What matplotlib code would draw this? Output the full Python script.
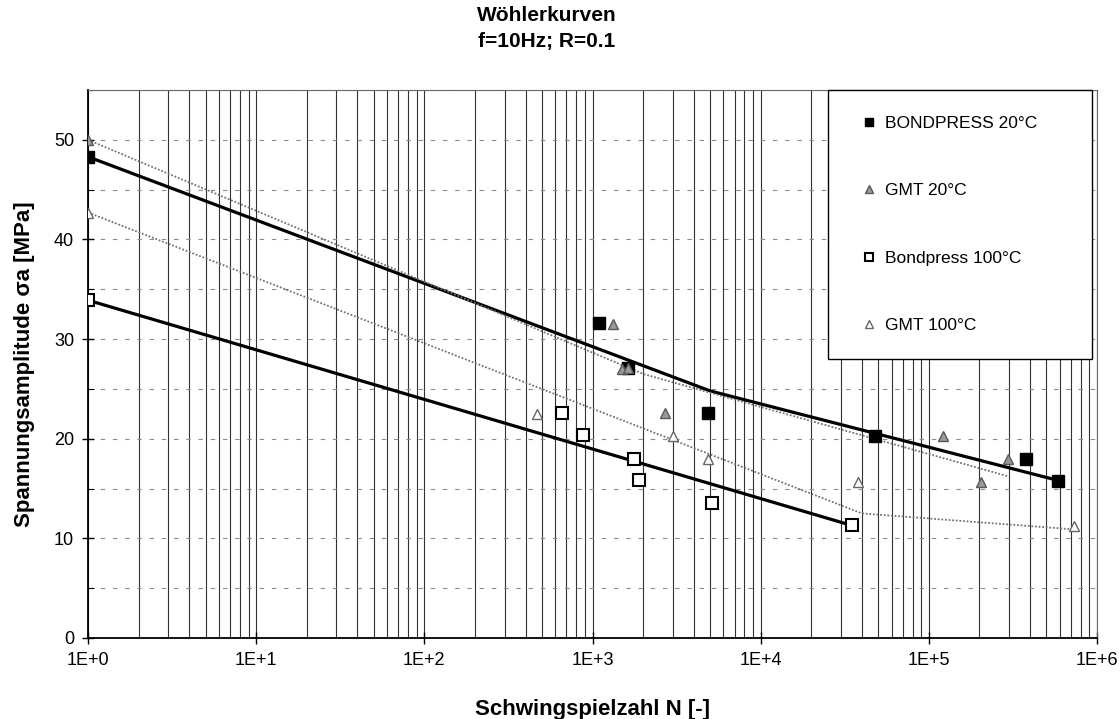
import numpy as np
import matplotlib
matplotlib.use('Agg')
import matplotlib.pyplot as plt
from matplotlib.ticker import FixedLocator, FuncFormatter, LogLocator, MultipleLocator

plt.rcParams['font.family'] = ['Liberation Sans', 'DejaVu Sans']

# measured points (cycles N, stress amplitude in MPa)
bp20_n = [1, 1090, 1630, 4860, 47800, 377000, 585000]
bp20_s = [48.3, 31.6, 27.1, 22.6, 20.3, 18.0, 15.8]

gmt20_n = [1, 1320, 1500, 1620, 2700, 121000, 204000, 297000]
gmt20_s = [50.0, 31.5, 27.0, 27.1, 22.6, 20.3, 15.7, 18.0]

bp100_n = [1, 660, 880, 1760, 1890, 5130, 34700]
bp100_s = [33.9, 22.6, 20.4, 18.0, 15.9, 13.5, 11.3]

gmt100_n = [1, 470, 3000, 4860, 38000, 728000]
gmt100_s = [42.7, 22.5, 20.3, 18.0, 15.7, 11.2]

# trend lines
bp20_fit_n = [1, 5000, 590000]
bp20_fit_s = [48.3, 24.8, 15.8]
gmt20_fit_n = [1, 2000, 300000]
gmt20_fit_s = [50.0, 26.5, 16.2]
bp100_fit_n = [1, 34700]
bp100_fit_s = [33.9, 11.3]
gmt100_fit_n = [1, 40000, 725000]
gmt100_fit_s = [42.7, 12.5, 10.9]

x_ticks = [1, 10, 100, 1000, 10000, 100000, 1000000]
y_ticks = [0, 10, 20, 30, 40, 50]

fig = plt.figure(figsize=(11.2, 7.19), dpi=100)
ax = fig.add_axes([0.0786, 0.1127, 0.9009, 0.7621])

ax.set_xscale('log')
ax.set_xlim(1, 1e6)
ax.set_ylim(0, 55)

# vertical grid at every 1..9 x 10^k, horizontal dashed every 5
ax.xaxis.set_major_locator(FixedLocator(x_ticks))
ax.xaxis.set_minor_locator(LogLocator(base=10, subs=np.arange(2, 10), numticks=20))
ax.xaxis.set_major_formatter(FuncFormatter(lambda v, p: '1E+%d' % int(round(np.log10(v)))))
ax.xaxis.set_minor_formatter(FuncFormatter(lambda v, p: ''))
ax.yaxis.set_major_locator(FixedLocator(y_ticks))
ax.yaxis.set_minor_locator(MultipleLocator(5))

ax.grid(True, which='both', axis='x', color='0.2', lw=0.8, ls='-')
ax.grid(True, which='both', axis='y', color='0.55', lw=0.8, ls=(0, (4, 7)))
ax.set_axisbelow(True)

ax.tick_params(axis='both', which='major', direction='inout', length=8, width=1,
               labelsize=13, pad=6)
ax.tick_params(axis='x', which='minor', length=0)
ax.tick_params(axis='y', which='minor', direction='in', length=4, width=0.8)

for side in ['left', 'bottom']:
	ax.spines[side].set_color('black')
	ax.spines[side].set_linewidth(1.3)
for side in ['top', 'right']:
	ax.spines[side].set_color('0.4')
	ax.spines[side].set_linewidth(0.8)

# trend lines
ax.plot(bp20_fit_n, bp20_fit_s, '-', color='black', lw=2.3, zorder=3)
ax.plot(bp100_fit_n, bp100_fit_s, '-', color='black', lw=2.3, zorder=3)
ax.plot(gmt20_fit_n, gmt20_fit_s, ls=(0, (1, 1)), color='0.45', lw=1.3, zorder=3)
ax.plot(gmt100_fit_n, gmt100_fit_s, ls=(0, (1, 1)), color='0.45', lw=1.3, zorder=3)

# data points
h1, = ax.plot(bp20_n, bp20_s, 's', ms=8, mfc='black', mec='black', ls='none', zorder=4,
              label='BONDPRESS 20°C')
h2, = ax.plot(gmt20_n, gmt20_s, '^', ms=7, mfc='0.6', mec='0.35', mew=1.0, ls='none', zorder=4,
              label='GMT 20°C')
h3, = ax.plot(bp100_n, bp100_s, 's', ms=8, mfc='white', mec='black', mew=1.5, ls='none', zorder=4,
              label='Bondpress 100°C')
h4, = ax.plot(gmt100_n, gmt100_s, '^', ms=7, mfc='white', mec='0.4', mew=1.0, ls='none', zorder=4,
              label='GMT 100°C')

leg = ax.legend(handles=[h1, h2, h3, h4], loc='upper left', bbox_to_anchor=(0.733, 0, 0.262, 1.0),
                mode='expand', borderaxespad=0, fontsize=12.5, borderpad=1.5, labelspacing=3.0,
                handlelength=1.8, handletextpad=0.0, fancybox=False, framealpha=1,
                edgecolor='black', markerscale=0.8)
leg.get_frame().set_linewidth(1.0)
leg.set_zorder(5)

ax.set_xlabel('Schwingspielzahl N [-]', fontsize=16, fontweight='bold', labelpad=22)
ax.set_ylabel('Spannungsamplitude σa [MPa]', fontsize=16, fontweight='bold', labelpad=14)

fig.text(0.488, 0.979, 'Wöhlerkurven', ha='center', va='center', fontsize=15, fontweight='bold')
fig.text(0.488, 0.942, 'f=10Hz; R=0.1', ha='center', va='center', fontsize=15, fontweight='bold')

fig.savefig('out.png', dpi=100)
